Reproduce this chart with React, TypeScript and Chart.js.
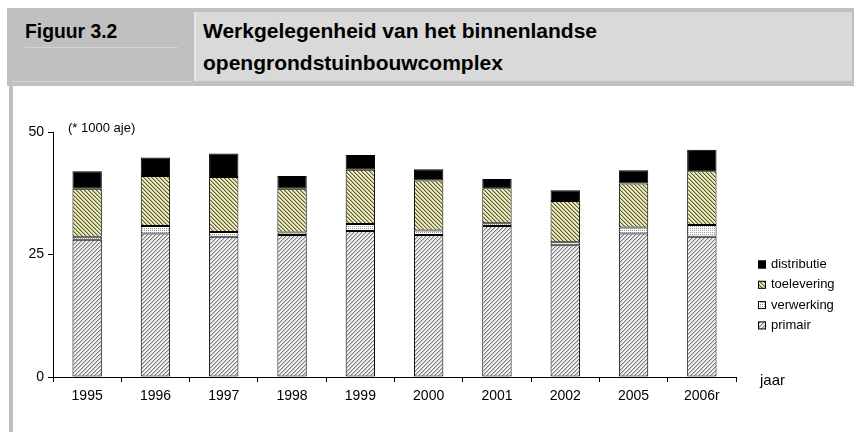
import React, { useEffect, useRef } from "react";
import { Chart, registerables } from "chart.js";

Chart.register(...registerables);

const categories = ["1995", "1996", "1997", "1998", "1999", "2000", "2001", "2002", "2005", "2006r"];
const primair = [28.0, 29.3, 28.6, 29.0, 29.8, 29.0, 30.8, 26.9, 29.3, 28.6];
const verwerking = [0.6, 1.5, 1.0, 0.5, 1.4, 0.9, 0.6, 0.6, 1.2, 2.4];
const toelevering = [9.8, 10.2, 11.2, 8.9, 11.1, 10.2, 7.1, 8.4, 9.0, 11.0];
const distributie = [3.6, 3.8, 4.8, 2.6, 3.0, 2.3, 1.9, 2.2, 2.7, 4.4];
const yTicks = [0, 25, 50];
const unitLabel = "(* 1000 aje)";
const xTitle = "jaar";
const figLabel = "Figuur 3.2";
const titleLines = ["Werkgelegenheid van het binnenlandse", "opengrondstuinbouwcomplex"];

const SANS = "'Liberation Sans', Arial, sans-serif";

function makePattern(ctx: CanvasRenderingContext2D, fn: (x: number, y: number) => string) {
  const c = document.createElement("canvas");
  c.width = 4;
  c.height = 4;
  const g = c.getContext("2d")!;
  for (let y = 0; y < 4; y++) {
    for (let x = 0; x < 4; x++) {
      g.fillStyle = fn(x, y);
      g.fillRect(x, y, 1, 1);
    }
  }
  return ctx.createPattern(c, "repeat")!;
}

export default function App() {
  const ref = useRef<HTMLCanvasElement | null>(null);

  useEffect(() => {
    const canvas = ref.current!;
    const ctx = canvas.getContext("2d")!;

    const patPrimair = makePattern(ctx, (x, y) => {
      const m = (x + y) % 4;
      return m === 3 ? "#7a7a7a" : m === 0 ? "#c4c4c4" : m === 1 ? "#ececec" : "#fafafa";
    });
    const patVerwerking = makePattern(ctx, (x, y) => ((x + y) % 2 === 0 && y % 2 === 0 ? "#9a9a9a" : "#ffffff"));
    const patToelevering = makePattern(ctx, (x, y) => {
      const m = (x - y + 8) % 4;
      return m === 0 ? "#5a5a3a" : m === 1 ? "#b4b484" : "#eeeebc";
    });

    const labelsPlugin = {
      id: "extraText",
      afterDraw(chart: any) {
        const c = chart.ctx;
        const ys = chart.scales.y;
        const area = chart.chartArea;
        c.save();
        c.fillStyle = "#000";
        c.textBaseline = "middle";
        c.textAlign = "left";
        c.font = `13px ${SANS}`;
        c.fillText(unitLabel, area.left + 15, ys.getPixelForValue(50) - 4);
        c.font = `15px ${SANS}`;
        c.fillText(xTitle, area.right + 24, ys.getPixelForValue(0) + 4);
        const ds = chart.data.datasets;
        c.font = `13px ${SANS}`;
        for (let i = 0; i < ds.length; i++) {
          const d = ds[ds.length - 1 - i];
          const cy = area.top + 132.5 + i * 20.3;
          const bx = area.right + 22;
          c.fillStyle = d.backgroundColor;
          c.fillRect(bx, cy - 4, 8, 8);
          c.strokeStyle = "#000";
          c.lineWidth = 1;
          c.strokeRect(bx + 0.5, cy - 3.5, 7, 7);
          c.fillStyle = "#000";
          c.fillText(d.label, bx + 13, cy);
        }
        c.restore();
      },
    };

    const common = { borderColor: "#000", borderWidth: 1, borderSkipped: false as const, barPercentage: 0.43, categoryPercentage: 1 };

    const chart = new Chart(canvas, {
      type: "bar",
      data: {
        labels: categories,
        datasets: [
          { label: "primair", data: primair, backgroundColor: patPrimair as any, ...common },
          { label: "verwerking", data: verwerking, backgroundColor: patVerwerking as any, ...common },
          { label: "toelevering", data: toelevering, backgroundColor: patToelevering as any, ...common },
          { label: "distributie", data: distributie, backgroundColor: "#000", ...common },
        ],
      },
      options: {
        animation: false,
        responsive: false,
        events: [],
        layout: { padding: { left: 0, top: 46, right: 118, bottom: 25 } },
        plugins: { legend: { display: false }, tooltip: { enabled: false }, title: { display: false } },
        scales: {
          x: {
            stacked: true,
            afterFit: (s: any) => {
              s.height = 30;
            },
            grid: { drawOnChartArea: false, drawTicks: true, tickLength: 5, color: "#000", offset: true },
            border: { color: "#000", width: 1 },
            ticks: { color: "#000", font: { family: SANS, size: 14 }, padding: 6, maxRotation: 0, autoSkip: false },
          },
          y: {
            stacked: true,
            min: 0,
            max: 50,
            afterFit: (s: any) => {
              s.width = 53;
            },
            afterBuildTicks: (s: any) => {
              s.ticks = yTicks.map((v) => ({ value: v }));
            },
            grid: { drawOnChartArea: false, drawTicks: true, tickLength: 5, color: "#000" },
            border: { color: "#000", width: 1 },
            ticks: { color: "#000", font: { family: SANS, size: 14 }, padding: 4 },
          },
        },
      },
      plugins: [labelsPlugin],
    });
    return () => chart.destroy();
  }, []);

  const headText: React.CSSProperties = {
    position: "absolute",
    fontFamily: SANS,
    fontWeight: "bold",
    fontSize: 21,
    color: "#000",
    whiteSpace: "nowrap",
    transformOrigin: "0 0",
  };

  return (
    <div style={{ position: "absolute", left: 0, top: 0, width: 854, height: 432, background: "#fff", overflow: "hidden" }}>
      <div style={{ position: "absolute", left: 7, top: 8, width: 847, height: 78, background: "#c0c0c0" }} />
      <div style={{ position: "absolute", left: 194, top: 12, width: 658, height: 69, background: "#d9d9d9", borderLeft: "2px solid #e6e6e6", boxSizing: "border-box" }} />
      <div style={{ position: "absolute", left: 25, top: 47, width: 153, height: 1, background: "#d4d4d4" }} />
      <div style={{ position: "absolute", left: 12, top: 81, width: 180, height: 1, background: "#d4d4d4" }} />
      <div style={{ position: "absolute", left: 9, top: 86, width: 4, height: 346, background: "#c0c0c0" }} />
      <div style={{ ...headText, left: 25, top: 19, lineHeight: "24px", transform: "scaleX(0.92)" }}>{figLabel}</div>
      <div style={{ ...headText, left: 203, top: 15, lineHeight: "32px" }}>
        {titleLines.map((t, i) => (
          <div key={i} style={{ height: 32 }}>{t}</div>
        ))}
      </div>
      <canvas ref={ref} width={854} height={346} style={{ position: "absolute", left: 0, top: 86, width: 854, height: 346 }} />
    </div>
  );
}
